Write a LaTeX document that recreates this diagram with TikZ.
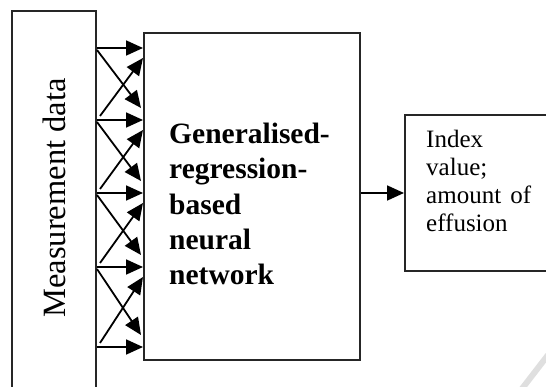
\documentclass[tikz,border=0pt]{standalone}
\usepackage{fontspec}
\setmainfont{Liberation Serif}
\usetikzlibrary{arrows.meta, positioning, calc}

\begin{document}
\begin{tikzpicture}[
        x=1pt, y=-1pt,
        % Styles
        box/.style={rectangle, draw=black!85, line width=2pt, anchor=north west, inner sep=0pt},
        conn/.style={-{Triangle[length=17pt,width=15pt]}, line width=1.8pt, draw=black},
        bigtext/.style={font=\fontsize{29.5}{35.3}\selectfont\bfseries, align=left, inner sep=0pt},
        smalltext/.style={font=\fontsize{25}{28}\selectfont, align=left, inner sep=0pt}
    ]
    \useasboundingbox (0,0) rectangle (546,387);

    % ==============================
    % 1. BOXES
    % ==============================
    \node[box, minimum width=84pt, minimum height=378pt] (meas) at (11,10) {};
    \node[box, minimum width=216pt, minimum height=327pt] (gnet) at (143,32) {};
    \node[box, minimum width=160pt, minimum height=156pt] (out) at (404,114) {};

    \node[rotate=90, font=\fontsize{32.5}{36}\selectfont, inner sep=0pt] (meas_text)
        at ($(meas.center)+(0,-2)$) {Measurement data};

    \node[bigtext, anchor=north west] (gnet_text) at (169,123) {
        Generalised-\\
        regression-\\
        based\\
        neural\\
        network
    };

    \node[smalltext, anchor=north west] (out_text) at (426,130) {
        Index\\
        value;\\
        \makebox[105pt][s]{amount of}\\
        effusion
    };

    % ==============================
    % 2. CONNECTIONS
    % ==============================
    \foreach \y [count=\i] in {48,120,193,267,347} {
        \coordinate (s\i) at ($(meas.north east)+(0,\y-10)$);
        \coordinate (t\i) at ($(gnet.north west)+(0,\y-32)$);
        \draw[conn] (s\i) -- (t\i);
    }
    \foreach \i in {1,...,4} {
        \pgfmathtruncatemacro{\j}{\i+1}
        \draw[conn] ($(s\i)+(0,2)$) -- ($(t\j)+(-2,-12)$);
        \draw[conn] ($(s\j)+(3,-4)$) -- ($(t\i)+(0,10)$);
    }

    \draw[conn] (out.west -| gnet.east) -- (out.west);

    % page shadow
    \draw[gray!25, line width=6pt] (521,390) -- (548,355);

\end{tikzpicture}
\end{document}
